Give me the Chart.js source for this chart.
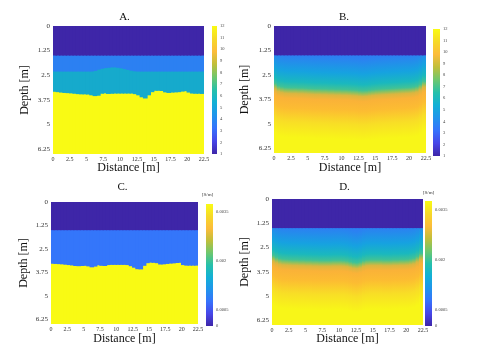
<!DOCTYPE html>
<html>
<head>
<meta charset="utf-8">
<script src="https://cdn.jsdelivr.net/npm/chart.js@4.4.1/dist/chart.umd.min.js"></script>
<style>
    body { margin: 0; background: #fff; }
    #wrap { position: relative; width: 478px; height: 360px; overflow: hidden; }
    #wrap canvas { position: absolute; }
</style>
</head>
<body>
<div id="wrap">
    <canvas id="panelA" width="214" height="180" style="left:0;top:0"></canvas>
    <canvas id="barA" width="34" height="180" style="left:206px;top:0"></canvas>
    <canvas id="panelB" width="200" height="180" style="left:236px;top:0"></canvas>
    <canvas id="barB" width="51" height="180" style="left:427px;top:0"></canvas>
    <canvas id="panelC" width="208" height="180" style="left:0;top:180px"></canvas>
    <canvas id="barC" width="40" height="180" style="left:200px;top:180px"></canvas>
    <canvas id="panelD" width="197" height="180" style="left:236px;top:180px"></canvas>
    <canvas id="barD" width="59" height="180" style="left:419px;top:180px"></canvas>
</div>
<script>
// axes
const distanceTicks = [0, 2.5, 5, 7.5, 10, 12.5, 15, 17.5, 20, 22.5];
const depthTicks = [0, 1.25, 2.5, 3.75, 5, 6.25];
const maxDepth = 6.5;
const resistivityTicks = [1, 2, 3, 4, 5, 6, 7, 8, 9, 10, 11, 12];
const conductivityTicks = [0, 0.0005, 0.002, 0.0035];
const conductivityLabels = ['0', '0.0005', '0.002', '0.0035'];

// column centres along the profile [m]
const columns = [
    0.25, 0.75, 1.25, 1.75, 2.25, 2.75, 3.25, 3.75, 4.25, 4.75,
    5.25, 5.75, 6.25, 6.75, 7.25, 7.75, 8.25, 8.75, 9.25, 9.75,
    10.25, 10.75, 11.25, 11.75, 12.25, 12.75, 13.25, 13.75, 14.25, 14.75,
    15.25, 15.75, 16.25, 16.75, 17.25, 17.75, 18.25, 18.75, 19.25, 19.75,
    20.25, 20.75, 21.25, 21.75, 22.25
];

// first layer bottom, same in all panels
const firstLayerBottom = 1.5;

// A. second and third layer bottoms [m]
const modelA_layer2 = [
    2.31, 2.31, 2.31, 2.31, 2.31, 2.31, 2.31, 2.31, 2.31, 2.31,
    2.31, 2.31, 2.28, 2.22, 2.17, 2.14, 2.12, 2.10, 2.10, 2.12,
    2.15, 2.19, 2.23, 2.27, 2.30, 2.31, 2.31, 2.31, 2.31, 2.31,
    2.31, 2.31, 2.31, 2.31, 2.31, 2.31, 2.31, 2.31, 2.31, 2.31,
    2.31, 2.31, 2.31, 2.31, 2.31
];
const modelA_layer3 = [
    3.34, 3.36, 3.38, 3.40, 3.41, 3.42, 3.44, 3.46, 3.47, 3.47,
    3.48, 3.52, 3.56, 3.54, 3.44, 3.42, 3.45, 3.44, 3.43, 3.43,
    3.43, 3.43, 3.43, 3.43, 3.46, 3.52, 3.62, 3.68, 3.52, 3.36,
    3.29, 3.29, 3.30, 3.37, 3.40, 3.38, 3.37, 3.36, 3.33, 3.31,
    3.38, 3.43, 3.44, 3.44, 3.45
];

// C. second layer bottom [m]
const modelC_layer2 = [
    3.29, 3.30, 3.31, 3.32, 3.34, 3.36, 3.38, 3.41, 3.42, 3.41,
    3.40, 3.43, 3.48, 3.44, 3.37, 3.40, 3.41, 3.36, 3.35, 3.35,
    3.35, 3.35, 3.35, 3.36, 3.42, 3.50, 3.58, 3.59, 3.40, 3.26,
    3.23, 3.24, 3.26, 3.33, 3.32, 3.30, 3.28, 3.27, 3.25, 3.24,
    3.36, 3.39, 3.39, 3.39, 3.39
];

// B. and D. depth of the smooth transition [m]
const invB_transition = [
    3.08, 3.20, 3.26, 3.29, 3.30, 3.31, 3.31, 3.32, 3.32, 3.33,
    3.34, 3.35, 3.36, 3.36, 3.37, 3.37, 3.38, 3.38, 3.39, 3.39,
    3.40, 3.40, 3.41, 3.42, 3.43, 3.45, 3.46, 3.45, 3.43, 3.41,
    3.39, 3.38, 3.37, 3.36, 3.35, 3.34, 3.33, 3.32, 3.31, 3.30,
    3.29, 3.27, 3.23, 3.13, 2.98
];
const invD_transition = [
    3.05, 3.15, 3.22, 3.25, 3.26, 3.27, 3.28, 3.28, 3.29, 3.29,
    3.30, 3.30, 3.31, 3.31, 3.32, 3.32, 3.32, 3.32, 3.31, 3.31,
    3.31, 3.32, 3.34, 3.38, 3.42, 3.44, 3.40, 3.33, 3.29, 3.28,
    3.28, 3.28, 3.28, 3.29, 3.29, 3.29, 3.28, 3.28, 3.27, 3.27,
    3.26, 3.24, 3.20, 3.10, 2.96
];

const DARK = 'rgb(62,38,168)';
const YELLOW = 'rgb(249,250,20)';

const parula = [
    [0, 'rgb(62,38,168)'],
    [0.1, 'rgb(71,70,232)'],
    [0.2, 'rgb(54,114,252)'],
    [0.3, 'rgb(32,148,236)'],
    [0.4, 'rgb(18,176,214)'],
    [0.5, 'rgb(38,192,170)'],
    [0.6, 'rgb(110,199,110)'],
    [0.7, 'rgb(192,191,58)'],
    [0.8, 'rgb(252,188,58)'],
    [0.9, 'rgb(246,217,40)'],
    [1, 'rgb(249,251,20)']
];

// colour profile around the transition depth
const profileOffsets = [-1.8, -1.0, -0.45, -0.15, 0, 0.15, 0.4, 0.9, 1.6, 2.4];
const profileColors = [
    'rgb(44,128,242)', 'rgb(22,162,224)', 'rgb(26,184,190)', 'rgb(64,194,150)',
    'rgb(140,193,96)', 'rgb(218,182,64)', 'rgb(250,178,56)', 'rgb(252,188,50)',
    'rgb(248,222,38)', 'rgb(248,246,24)'
];

const SERIF = "'Liberation Serif', 'DejaVu Serif', serif";
Chart.defaults.font.family = SERIF;

const captionPlugin = {
    id: 'caption',
    afterDraw(chart, args, opts) {
        if (!opts.text) return;
        const {ctx, chartArea} = chart;
        ctx.save();
        ctx.font = opts.font;
        ctx.fillStyle = opts.color || '#111';
        ctx.textAlign = 'center';
        ctx.textBaseline = 'middle';
        ctx.fillText(opts.text, (chartArea.left + chartArea.right) / 2 + (opts.dx || 0), chartArea.top - opts.dy);
        ctx.restore();
    }
};

function transitionFill(ctx, transition) {
    const chart = ctx.chart;
    if (!chart.chartArea || ctx.dataIndex === undefined) return YELLOW;
    const y = chart.scales.y;
    const g = chart.ctx.createLinearGradient(0, y.getPixelForValue(0), 0, y.getPixelForValue(maxDepth));
    const t = transition[ctx.dataIndex];
    profileOffsets.forEach((o, k) => {
        const f = Math.min(1, Math.max(0, (t + o) / maxDepth));
        g.addColorStop(f, profileColors[k]);
    });
    return g;
}

function parulaFill(ctx) {
    const chart = ctx.chart;
    if (!chart.chartArea) return DARK;
    const y = chart.scales.y;
    const g = chart.ctx.createLinearGradient(0, y.getPixelForValue(y.min), 0, y.getPixelForValue(y.max));
    parula.forEach(([t, c]) => g.addColorStop(t, c));
    return g;
}

// columns overlap by ~1px so no seams show between them
function layer(bottoms, color) {
    return {
        data: columns.map((x, i) => ({x: x, y: [0, bottoms[i]]})),
        backgroundColor: color,
        grouped: false,
        barPercentage: 1.4,
        categoryPercentage: 1,
        borderWidth: 0,
        clip: 0
    };
}

function constant(value) {
    return columns.map(() => value);
}

function panelChart(id, cfg) {
    return new Chart(document.getElementById(id), {
        type: 'bar',
        data: {datasets: cfg.datasets},
        options: {
            responsive: false,
            animation: false,
            layout: {padding: cfg.padding},
            scales: {
                x: {
                    type: 'linear', min: 0, max: 22.5, offset: false,
                    grid: {display: false, drawTicks: false},
                    border: {display: false},
                    afterBuildTicks: s => { s.ticks = distanceTicks.map(v => ({value: v})); },
                    afterFit: s => { s.height = cfg.xHeight; },
                    ticks: {padding: 2, font: {size: 6}, color: '#333', maxRotation: 0, autoSkip: false,
                        callback: v => String(v)},
                    title: {display: true, text: 'Distance [m]', font: {size: 12}, color: '#111',
                        padding: {top: 0, bottom: cfg.xTitlePad}}
                },
                y: {
                    type: 'linear', min: 0, max: maxDepth, reverse: true,
                    grid: {display: false, drawTicks: false},
                    border: {display: false},
                    afterBuildTicks: s => { s.ticks = depthTicks.map(v => ({value: v})); },
                    afterFit: s => { s.width = cfg.yWidth; },
                    ticks: {padding: 3, font: {size: 7}, color: '#333', autoSkip: false,
                        callback: v => String(v)},
                    title: {display: true, text: 'Depth [m]', font: {size: 12}, color: '#111',
                        padding: {top: cfg.yTitlePad, bottom: 0}}
                }
            },
            plugins: {
                legend: {display: false},
                tooltip: {enabled: false},
                caption: {text: cfg.title, dx: cfg.dx, dy: cfg.dy, font: '11px ' + SERIF}
            }
        },
        plugins: [captionPlugin]
    });
}

function colorbarChart(id, cfg) {
    return new Chart(document.getElementById(id), {
        type: 'bar',
        data: {
            labels: [''],
            datasets: [{
                data: [[cfg.min, cfg.max]],
                backgroundColor: parulaFill,
                barPercentage: 1,
                categoryPercentage: 1,
                borderWidth: 0
            }]
        },
        options: {
            responsive: false,
            animation: false,
            layout: {padding: cfg.padding},
            scales: {
                x: {display: false},
                y: {
                    position: 'right', min: cfg.min, max: cfg.max,
                    grid: {display: false, drawTicks: false},
                    border: {display: false},
                    afterBuildTicks: s => { s.ticks = cfg.ticks.map(v => ({value: v})); },
                    afterFit: s => { s.width = cfg.width; },
                    ticks: {
                        padding: 3, font: {size: 4.5}, color: '#444', autoSkip: false,
                        callback: (v, i) => cfg.labels ? cfg.labels[i] : String(v)
                    }
                }
            },
            plugins: {
                legend: {display: false},
                tooltip: {enabled: false},
                caption: {text: cfg.unit, dx: cfg.dx || 0, dy: cfg.dy || 0, font: '5px ' + SERIF, color: '#333'}
            }
        },
        plugins: [captionPlugin]
    });
}

panelChart('panelA', {
    title: 'A.', dx: -4, dy: 9,
    padding: {left: 0, top: 26, right: 10, bottom: 0},
    yWidth: 53, xHeight: 26, yTitlePad: 18, xTitlePad: 5,
    datasets: [
        layer(constant(firstLayerBottom), DARK),
        layer(modelA_layer2, 'rgb(44,128,242)'),
        layer(modelA_layer3, 'rgb(22,170,204)'),
        layer(constant(maxDepth), YELLOW)
    ]
});

panelChart('panelB', {
    title: 'B.', dx: -6, dy: 9,
    padding: {left: 0, top: 26, right: 10, bottom: 1},
    yWidth: 38, xHeight: 26, yTitlePad: 2, xTitlePad: 4,
    datasets: [
        layer(constant(firstLayerBottom), DARK),
        layer(constant(maxDepth), ctx => transitionFill(ctx, invB_transition))
    ]
});

panelChart('panelC', {
    title: 'C.', dx: -2, dy: 15,
    padding: {left: 0, top: 22, right: 10, bottom: 0},
    yWidth: 51, xHeight: 36, yTitlePad: 17, xTitlePad: 14,
    datasets: [
        layer(constant(firstLayerBottom), DARK),
        layer(modelC_layer2, 'rgb(52,118,250)'),
        layer(constant(maxDepth), YELLOW)
    ]
});

panelChart('panelD', {
    title: 'D.', dx: -3, dy: 12,
    padding: {left: 0, top: 19, right: 10, bottom: 0},
    yWidth: 36, xHeight: 35, yTitlePad: 2, xTitlePad: 14,
    datasets: [
        layer(constant(firstLayerBottom), DARK),
        layer(constant(maxDepth), ctx => transitionFill(ctx, invD_transition))
    ]
});

colorbarChart('barA', {
    min: 1, max: 12, ticks: resistivityTicks, width: 23,
    padding: {left: 6, top: 26, right: 0, bottom: 26}
});
colorbarChart('barB', {
    min: 1, max: 12, ticks: resistivityTicks, width: 38,
    padding: {left: 6, top: 29, right: 0, bottom: 24}
});
colorbarChart('barC', {
    min: 0, max: 0.00375, ticks: conductivityTicks, labels: conductivityLabels, width: 27,
    padding: {left: 6, top: 24, right: 0, bottom: 34},
    unit: '[S/m]', dx: -2, dy: 9
});
colorbarChart('barD', {
    min: 0, max: 0.00375, ticks: conductivityTicks, labels: conductivityLabels, width: 46,
    padding: {left: 6, top: 21, right: 0, bottom: 34},
    unit: '[S/m]', dx: 0, dy: 8
});
</script>
</body>
</html>
